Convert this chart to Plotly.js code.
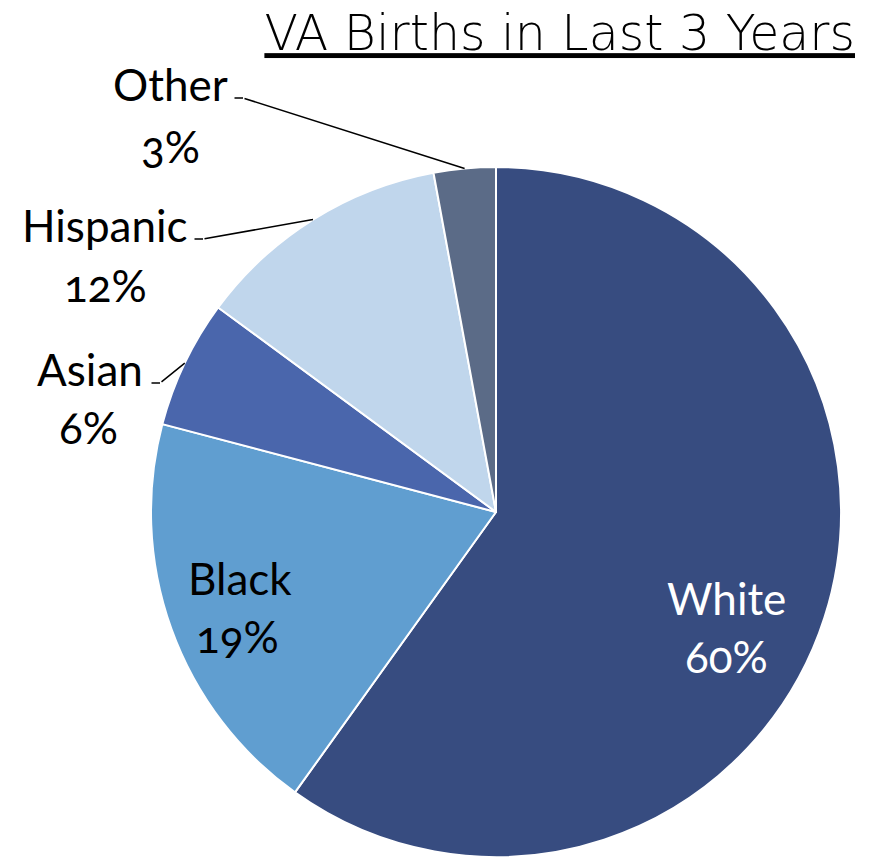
<!DOCTYPE html>
<html>
<head>
<meta charset="utf-8">
<script src="https://cdn.plot.ly/plotly-3.0.1.min.js"></script>
<style>
html,body{margin:0;padding:0;background:#fff;}
.annotation-text{font-feature-settings:"onum" 1;}
</style>
</head>
<body>
<div id="chart" style="width:872px;height:859px;"></div>
<script>
// ---- data ----
const categories = ["White", "Black", "Asian", "Hispanic", "Other"];
const shares = [59.9, 19.2, 6.0, 12.0, 2.9];
const colors = ["#374C80", "#609ED0", "#4A66AC", "#C0D6EC", "#5B6B87"];
const labelColors = ["#ffffff", "#000000", "#000000", "#000000", "#000000"];
const titleText = "VA Births in Last 3 Years";

// ---- layout geometry (pixels) ----
const W = 872, H = 859;
const cx = 496, cy = 512, R = 345;
const total = shares.reduce((a, b) => a + b, 0);

// label placement: name line center, percent line center, optional leader start
const place = {
  "White":    {nx: 726, ny: 598, px: 726, py: 656},
  "Black":    {nx: 240, ny: 578, px: 238, py: 636},
  "Asian":    {nx: 90,  ny: 369, px: 88,  py: 427, sx: 150, sy: 383},
  "Hispanic": {nx: 105, ny: 225, px: 105, py: 285, sx: 193, sy: 239},
  "Other":    {nx: 170, ny: 84,  px: 170, py: 146, sx: 233, sy: 98}
};

const labelFont = "Lato, 'Open Sans', sans-serif";
const annotations = [];
let cum = 0;
categories.forEach((c, i) => {
  const mid = (cum + shares[i] / 2) / total;
  cum += shares[i];
  const o = place[c];
  const pct = Math.round(shares[i] / total * 100);
  [[o.nx, o.ny, c], [o.px, o.py, pct + "%"]].forEach(([x, y, t]) => {
    annotations.push({
      xref: "paper", yref: "paper", x: x / W, y: 1 - y / H,
      xanchor: "center", yanchor: "middle", showarrow: false,
      text: t, font: {family: labelFont, size: 44, color: labelColors[i]}
    });
  });
  if (o.sx === undefined) return;
  const ang = mid * 2 * Math.PI;
  const ex = cx + R * Math.sin(ang);
  const ey = cy - R * Math.cos(ang);
  // diagonal leader
  annotations.push({
    xref: "paper", yref: "paper", x: ex / W, y: 1 - ey / H,
    ax: (o.sx + 10) - ex, ay: o.sy - ey, axref: "pixel", ayref: "pixel",
    text: "", showarrow: true, arrowhead: 0, arrowwidth: 1.5, arrowcolor: "#000", standoff: 0, startstandoff: 0
  });
  // short horizontal segment
  annotations.push({
    xref: "paper", yref: "paper", x: (o.sx + 10) / W, y: 1 - o.sy / H,
    ax: -10, ay: 0, axref: "pixel", ayref: "pixel",
    text: "", showarrow: true, arrowhead: 0, arrowwidth: 1.5, arrowcolor: "#000", standoff: 0, startstandoff: 0
  });
});

const trace = {
  type: "pie",
  labels: categories,
  values: shares,
  sort: false,
  direction: "clockwise",
  rotation: 0,
  marker: {colors: colors, line: {color: "#ffffff", width: 2}},
  textinfo: "none",
  hoverinfo: "label+percent",
  domain: {x: [(cx - R) / W, (cx + R) / W], y: [(H - cy - R) / H, (H - cy + R) / H]},
  automargin: false
};

const layout = {
  width: W, height: H,
  margin: {l: 0, r: 0, t: 0, b: 0},
  paper_bgcolor: "#ffffff",
  showlegend: false,
  title: {
    text: titleText,
    x: 855 / W, xanchor: "right", xref: "paper",
    y: 1 - 33 / H, yanchor: "middle", yref: "container",
    font: {family: "'DejaVu Sans', sans-serif", size: 49, weight: 200, color: "#000", lineposition: "under"}
  },
  annotations: annotations
};

Plotly.newPlot("chart", [trace], layout, {displayModeBar: false, staticPlot: true});
</script>
</body>
</html>
